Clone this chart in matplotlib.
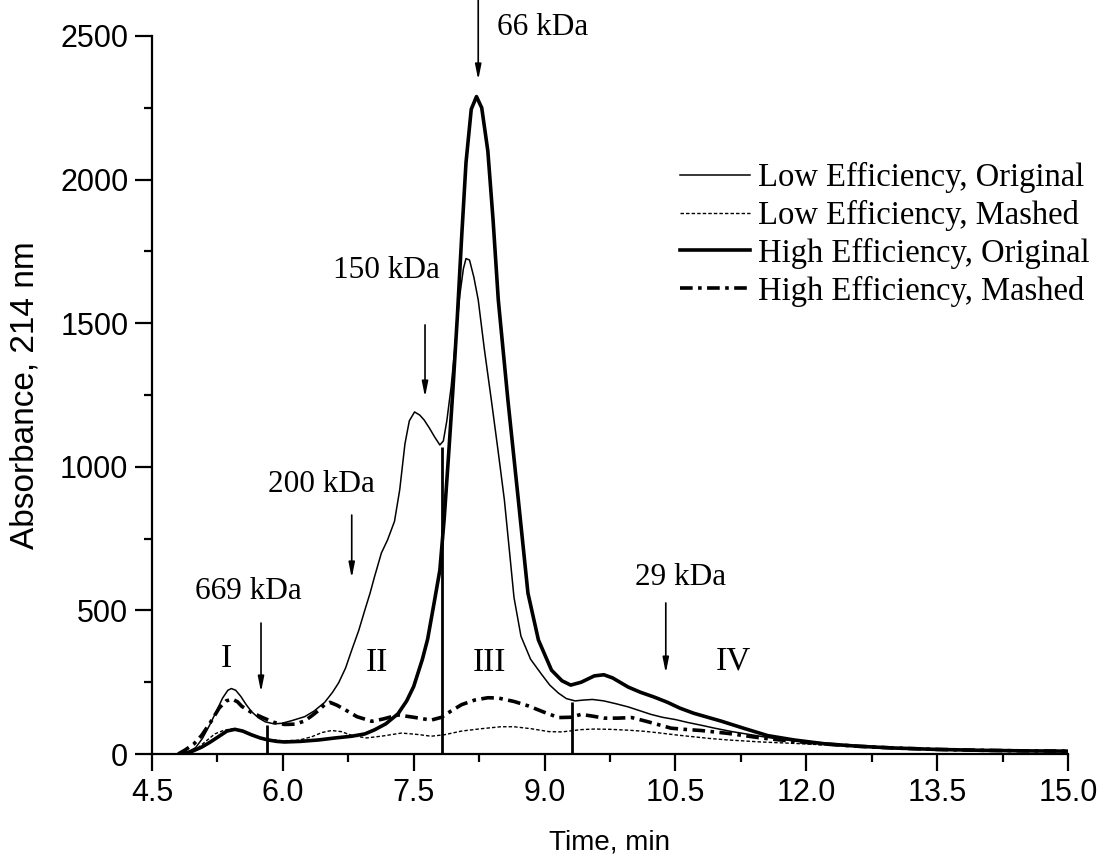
import matplotlib
matplotlib.use('Agg')
import matplotlib.pyplot as plt
from matplotlib.ticker import MultipleLocator

# chromatogram traces (time in min, absorbance at 214 nm)
lo_t = [4.78, 4.90, 5.00, 5.08, 5.16, 5.24, 5.31, 5.37, 5.41, 5.46, 5.52, 5.58, 5.64,
        5.72, 5.80, 5.90, 5.99, 6.10, 6.25, 6.36, 6.48, 6.57, 6.64, 6.72, 6.79, 6.87,
        6.94, 7.00, 7.05, 7.13, 7.20, 7.28, 7.34, 7.40, 7.45, 7.51, 7.57, 7.62, 7.68,
        7.74, 7.80, 7.84, 7.88, 7.93, 7.98, 8.03, 8.07, 8.10, 8.14, 8.19, 8.24, 8.31,
        8.39, 8.47, 8.54, 8.60, 8.65, 8.73, 8.84, 8.96, 9.06, 9.16, 9.25, 9.35, 9.45,
        9.55, 9.68, 9.82, 9.96, 10.10, 10.22, 10.35, 10.50, 10.64, 10.80, 10.95, 11.15,
        11.35, 11.55, 11.80, 12.10, 12.50, 13.00, 13.50, 14.00, 14.50, 15.00]
lo_y = [0, 6, 22, 55, 100, 150, 195, 222, 228, 222, 200, 172, 148,
        126, 112, 105, 107, 116, 130, 150, 180, 215, 248, 300, 362, 430,
        501, 560, 616, 700, 745, 810, 920, 1080, 1160, 1191, 1180, 1163, 1135,
        1104, 1076, 1090, 1160, 1280, 1440, 1600, 1690, 1725, 1720, 1660, 1581, 1410,
        1233, 1050, 884, 700, 545, 410, 330, 280, 240, 212, 193, 185, 188,
        190, 185, 175, 164, 150, 138, 128, 120, 110, 100, 90, 78,
        68, 58, 48, 38, 28, 20, 16, 13, 11, 10]

lm_t = [4.85, 4.98, 5.10, 5.22, 5.32, 5.42, 5.52, 5.64, 5.80, 6.00, 6.18, 6.33, 6.45,
        6.56, 6.67, 6.80, 6.96, 7.15, 7.36, 7.55, 7.70, 7.85, 8.05, 8.27, 8.50, 8.65,
        8.85, 9.05, 9.20, 9.42, 9.57, 9.75, 9.96, 10.15, 10.33, 10.52, 10.71, 10.90,
        11.10, 11.48, 11.86, 12.20, 12.60, 13.00, 13.50, 14.00, 14.50, 15.00]
lm_y = [0, 10, 40, 70, 82, 88, 80, 65, 52, 46, 48, 60, 75,
        82, 78, 64, 56, 63, 73, 68, 62, 67, 80, 88, 95, 95,
        88, 78, 77, 85, 87, 86, 83, 79, 73, 66, 60, 54,
        49, 42, 37, 32, 26, 20, 16, 13, 11, 10]

ho_t = [4.84, 4.95, 5.07, 5.17, 5.27, 5.36, 5.45, 5.54, 5.64, 5.74, 5.83, 5.93, 6.02,
        6.20, 6.41, 6.60, 6.79, 6.94, 7.05, 7.18, 7.32, 7.42, 7.50, 7.60, 7.66, 7.74,
        7.80, 7.85, 7.90, 7.95, 8.00, 8.05, 8.10, 8.16, 8.22, 8.28, 8.35, 8.41, 8.47,
        8.58, 8.70, 8.81, 8.93, 9.08, 9.20, 9.30, 9.42, 9.57, 9.68, 9.78, 9.96, 10.10,
        10.26, 10.41, 10.55, 10.71, 10.87, 11.02, 11.28, 11.56, 11.86, 12.20, 12.60,
        13.00, 13.50, 14.00, 14.50, 15.00]
ho_y = [0, 8, 24, 42, 62, 80, 86, 80, 67, 56, 49, 44, 42,
        44, 49, 56, 62, 70, 84, 105, 140, 185, 235, 330, 400, 536,
        640, 820, 1040, 1270, 1520, 1800, 2060, 2245, 2289, 2250, 2100, 1860, 1581,
        1233, 884, 560, 397, 292, 255, 240, 250, 272, 276, 265, 233, 215,
        198, 180, 160, 142, 128, 115, 90, 64, 49, 36, 27,
        21, 16, 13, 11, 10]

hm_t = [4.80, 4.88, 4.98, 5.07, 5.17, 5.27, 5.35, 5.42, 5.48, 5.53, 5.64, 5.76, 5.90,
        6.02, 6.14, 6.25, 6.34, 6.41, 6.48, 6.54, 6.62, 6.71, 6.85, 7.02, 7.15, 7.32,
        7.50, 7.70, 7.82, 7.93, 8.05, 8.20, 8.35, 8.47, 8.65, 8.81, 9.00, 9.16, 9.30,
        9.42, 9.55, 9.68, 9.84, 10.00, 10.19, 10.45, 10.60, 10.79, 11.10, 11.48, 11.86,
        12.20, 12.60, 13.00, 13.50, 14.00, 14.50, 15.00]
hm_y = [0, 14, 35, 65, 110, 160, 185, 191, 182, 166, 145, 128, 110,
        103, 104, 115, 135, 152, 172, 180, 170, 155, 130, 114, 122, 136,
        128, 118, 128, 150, 172, 188, 196, 195, 183, 168, 145, 127, 128,
        138, 132, 125, 125, 127, 112, 90, 86, 82, 72, 56, 44,
        35, 27, 21, 16, 13, 11, 10]

series_labels = ["Low Efficiency, Original", "Low Efficiency, Mashed",
                 "High Efficiency, Original", "High Efficiency, Mashed"]

# fraction dividers
divider_t = [5.82, 7.82, 9.32]
divider_top = [101, 1070, 182]

# molecular weight markers
marker_labels = ["669 kDa", "200 kDa", "150 kDa", "66 kDa", "29 kDa"]
marker_t = [5.75, 6.79, 7.63, 8.24, 10.39]
marker_tail = [456, 832, 1494, 2640, 526]
marker_tip = [216, 613, 1243, 2347, 282]
marker_text_t = [5.60, 6.44, 7.19, 8.98, 10.56]
marker_text_y = [565, 937, 1685, 2531, 613]

fraction_labels = ["I", "II", "III", "IV"]
fraction_t = [5.35, 7.08, 8.37, 11.17]
fraction_y = [330, 318, 318, 322]

serif = 'Liberation Serif'
sans = 'Liberation Sans'

fig = plt.figure(figsize=(11.06, 8.67), dpi=100)
ax = fig.add_axes([0.1374, 0.1303, 0.8282, 0.8282])

ax.plot(lo_t, lo_y, color='black', lw=1.1, label=series_labels[0])
ax.plot(lm_t, lm_y, color='black', lw=1.0, ls=(0, (2.5, 1.5)), label=series_labels[1])
ax.plot(ho_t, ho_y, color='black', lw=2.6, label=series_labels[2])
ax.plot(hm_t, hm_y, color='black', lw=2.6, ls=(0, (3.5, 1.5, 1.0, 1.5)),
        label=series_labels[3])

ax.vlines(divider_t, 0, divider_top, color='black', lw=2.0)

for lab, t, tail, tip, tx, ty in zip(marker_labels, marker_t, marker_tail, marker_tip,
                                     marker_text_t, marker_text_y):
    ax.annotate('', xy=(t, tip), xytext=(t, tail), annotation_clip=False,
                arrowprops=dict(arrowstyle='-|>,head_length=0.9,head_width=0.18',
                                lw=1.2, color='black', shrinkA=0, shrinkB=0))
    ax.text(tx, ty, lab, fontsize=22.5, family=serif, ha='center', va='center')

for lab, t, y in zip(fraction_labels, fraction_t, fraction_y):
    ax.text(t, y, lab, fontsize=24, family=serif, ha='center', va='center')

ax.set_xlim(4.5, 15.0)
ax.set_ylim(0, 2500)
ax.xaxis.set_minor_locator(MultipleLocator(0.75))
ax.yaxis.set_major_locator(MultipleLocator(500))
ax.yaxis.set_minor_locator(MultipleLocator(250))
ax.set_xticks([4.5, 6.0, 7.5, 9.0, 10.5, 12.0, 13.5, 15.0])
ax.set_xticklabels(["4.5", "6.0", "7.5", "9.0", "10.5", "12.0", "13.5", "15.0"])

for s in ['top', 'right']:
    ax.spines[s].set_visible(False)
for s in ['left', 'bottom']:
    ax.spines[s].set_linewidth(1.6)
ax.tick_params(which='major', direction='out', length=12, width=1.6,
               labelsize=22, pad=5)
ax.tick_params(which='minor', direction='out', length=6, width=1.6)
for lbl in ax.get_xticklabels() + ax.get_yticklabels():
    lbl.set_family(sans)

ax.set_xlabel("Time, min", fontsize=20, family=sans, labelpad=16)
ax.set_ylabel("Absorbance, 214 nm", fontsize=24, family=sans)
ax.yaxis.set_label_coords(-0.122, 0.5)

leg = ax.legend(loc='upper left', bbox_to_anchor=(680 / 1106, 1 - 162 / 867),
                bbox_transform=fig.transFigure, frameon=False,
                prop={'family': serif, 'size': 23.5}, handlelength=2.15,
                handletextpad=0.25, labelspacing=0.21, borderpad=0.0,
                borderaxespad=0.0)

fig.savefig('out.png', dpi=100)
plt.close(fig)
